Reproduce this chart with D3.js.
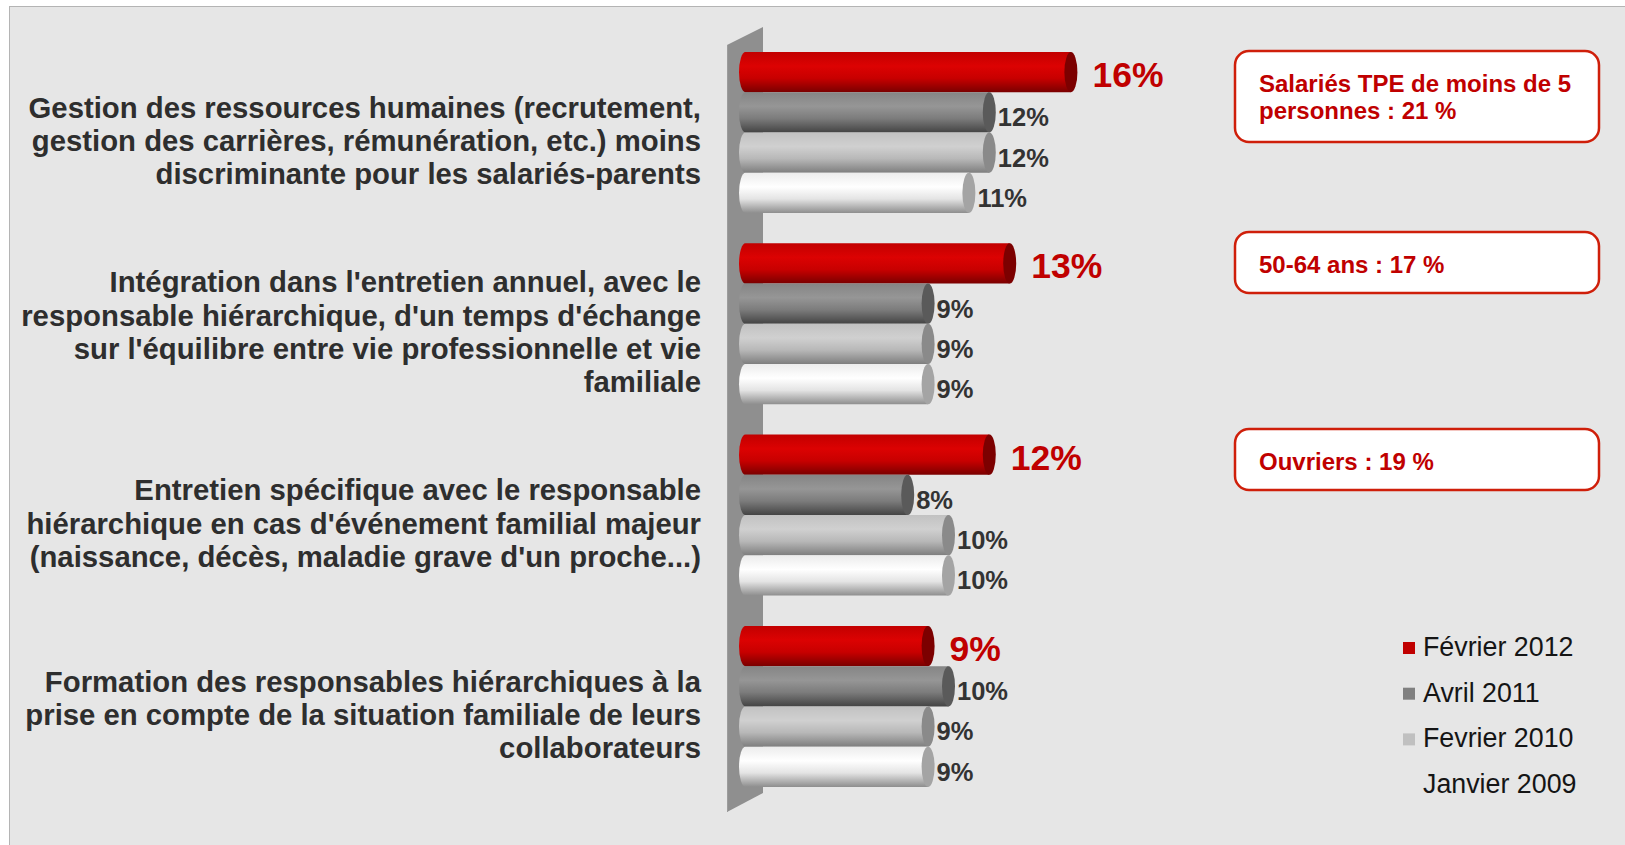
<!DOCTYPE html>
<html>
<head>
<meta charset="utf-8">
<script src="https://cdn.jsdelivr.net/npm/d3@7"></script>
<style>
  body { margin: 0; background: #ffffff; }
  text { font-family: "Liberation Sans", Arial, sans-serif; }
</style>
</head>
<body>
<div id="chart"></div>
<script>
var width = 1625;
var height = 845;

// data
var categories = ["c1", "c2", "c3", "c4"];
var categoryLines = [
    ["Gestion des ressources humaines (recrutement,",
     "gestion des carrières, rémunération, etc.) moins",
     "discriminante pour les salariés-parents"],
    ["Intégration dans l'entretien annuel, avec le",
     "responsable hiérarchique, d'un temps d'échange",
     "sur l'équilibre entre vie professionnelle et vie",
     "familiale"],
    ["Entretien spécifique avec le responsable",
     "hiérarchique en cas d'événement familial majeur",
     "(naissance, décès, maladie grave d'un proche...)"],
    ["Formation des responsables hiérarchiques à la",
     "prise en compte de la situation familiale de leurs",
     "collaborateurs"]
];
var series = ["Février 2012", "Avril 2011", "Fevrier 2010", "Janvier 2009"];
var fev2012 = [16, 13, 12, 9];
var avr2011 = [12, 9, 8, 10];
var fev2010 = [12, 9, 10, 9];
var jan2009 = [11, 9, 10, 9];
var values = [fev2012, avr2011, fev2010, jan2009];
var callouts = [
    ["Salariés TPE de moins de 5", "personnes : 21 %"],
    ["50-64 ans : 17 %"],
    ["Ouvriers : 19 %"]
];

// colours per series: gradient stops + cap colour
var grads = [
    {stops: ["#c20000", "#dc0202", "#c80000", "#7a0000"], cap: "#7c0000"},
    {stops: ["#858585", "#969696", "#7c7c7c", "#444444"], cap: "#5a5a5a"},
    {stops: ["#c2c2c2", "#d0d0d0", "#b8b8b8", "#7e7e7e"], cap: "#8a8a8a"},
    {stops: ["#ececec", "#ffffff", "#e4e4e4", "#8e8e8e"], cap: "#a4a4a4"}
];
var legendColors = ["#c00000", "#808080", "#c0c0c0", "#e6e6e6"];

var svg = d3.select("#chart")
    .append("svg")
    .attr("width", width)
    .attr("height", height);

var defs = svg.append("defs");
grads.forEach(function(g, i) {
    var lg = defs.append("linearGradient")
        .attr("id", "grad" + i)
        .attr("x1", 0).attr("y1", 0).attr("x2", 0).attr("y2", 1);
    var offs = [0, 0.35, 0.65, 1];
    g.stops.forEach(function(c, j) {
        lg.append("stop").attr("offset", offs[j]).attr("stop-color", c);
    });
});

// background panel
svg.append("rect")
    .attr("x", 9.5)
    .attr("y", 6.5)
    .attr("width", width)
    .attr("height", height)
    .attr("fill", "#e6e6e6")
    .attr("stroke", "#b4b4b4")
    .attr("stroke-width", 1);

// scales
var xScale = d3.scaleLinear().domain([0, 16]).range([751, 1077.4]);
var yGroup = d3.scaleBand().domain(categories).range([52, 52 + 191.3 * 4]);
var yBar = d3.scaleBand().domain(series).range([0, 161]);
var barH = yBar.bandwidth();
var capR = 6.5;
var barLeft = 739;

// the wall behind the bars
svg.append("path")
    .attr("d", "M727,45 L763,27 L763,793 L727,812 Z")
    .attr("fill", "#8f8f8f");
svg.append("line")
    .attr("x1", 727.5).attr("y1", 45).attr("x2", 727.5).attr("y2", 812)
    .attr("stroke", "#9c9c9c");

// bars
var groups = svg.selectAll(".group")
    .data(categories)
    .enter()
    .append("g")
    .attr("class", "group")
    .attr("transform", function(d) { return "translate(0," + yGroup(d) + ")"; });

groups.each(function(c, ci) {
    var g = d3.select(this);
    var rows = series.map(function(s, si) {
        return {s: s, si: si, v: values[si][ci]};
    });

    var bar = g.selectAll(".bar")
        .data(rows)
        .enter()
        .append("g")
        .attr("class", "bar");

    bar.append("path")
        .attr("d", function(d) {
            var top = yBar(d.s);
            var bot = top + barH;
            var xc = xScale(d.v) - capR;
            var xl = barLeft + capR;
            return "M" + xl + "," + top + " L" + xc + "," + top +
                " L" + xc + "," + bot + " L" + xl + "," + bot +
                " A" + capR + "," + (barH / 2) + " 0 0 1 " + xl + "," + top + " Z";
        })
        .attr("fill", function(d) { return "url(#grad" + d.si + ")"; });

    bar.append("ellipse")
        .attr("cx", function(d) { return xScale(d.v) - capR; })
        .attr("cy", function(d) { return yBar(d.s) + barH / 2; })
        .attr("rx", capR)
        .attr("ry", barH / 2)
        .attr("fill", function(d) { return grads[d.si].cap; });

    bar.append("text")
        .attr("x", function(d) { return xScale(d.v) + (d.si === 0 ? 15 : 2); })
        .attr("y", function(d) { return yBar(d.s) + (d.si === 0 ? 35 : 34); })
        .attr("font-size", function(d) { return d.si === 0 ? 35.5 : 25.5; })
        .attr("font-weight", "bold")
        .attr("fill", function(d) { return d.si === 0 ? "#c00000" : "#333333"; })
        .text(function(d) { return d.v + "%"; });

    // category label
    var lines = categoryLines[ci];
    var mid = 80.5 + 18.5;
    var lh = 33.3;
    g.append("text")
        .attr("text-anchor", "end")
        .attr("font-size", 29.3)
        .attr("font-weight", "bold")
        .attr("fill", "#2e2e2e")
        .selectAll("tspan")
        .data(lines)
        .enter()
        .append("tspan")
        .attr("x", 701)
        .attr("y", function(d, i) { return mid + (i - (lines.length - 1) / 2) * lh; })
        .text(function(d) { return d; });
});

// callout boxes
var boxTops = [51, 232, 429];
var boxHeights = [91, 61, 61];
callouts.forEach(function(lines, i) {
    var b = svg.append("g");
    b.append("rect")
        .attr("x", 1235)
        .attr("y", boxTops[i])
        .attr("width", 364)
        .attr("height", boxHeights[i])
        .attr("rx", 14)
        .attr("fill", "#ffffff")
        .attr("stroke", "#cf1f0a")
        .attr("stroke-width", 2.5);
    b.append("text")
        .attr("font-size", 24)
        .attr("font-weight", "bold")
        .attr("fill", "#c00000")
        .selectAll("tspan")
        .data(lines)
        .enter()
        .append("tspan")
        .attr("x", 1259)
        .attr("y", function(d, j) {
            return lines.length > 1 ? boxTops[i] + 41 + j * 27 : boxTops[i] + 41;
        })
        .text(function(d) { return d; });
});

// legend
var legend = svg.selectAll(".legend")
    .data(series)
    .enter()
    .append("g")
    .attr("class", "legend")
    .attr("transform", function(d, i) { return "translate(1403," + (656 + i * 45.7) + ")"; });

legend.append("rect")
    .attr("x", 0)
    .attr("y", -14)
    .attr("width", 12)
    .attr("height", 12)
    .attr("fill", function(d, i) { return legendColors[i]; });

legend.append("text")
    .attr("x", 20)
    .attr("y", 0)
    .attr("font-size", 26.8)
    .attr("fill", "#151515")
    .text(function(d) { return d; });
</script>
</body>
</html>
